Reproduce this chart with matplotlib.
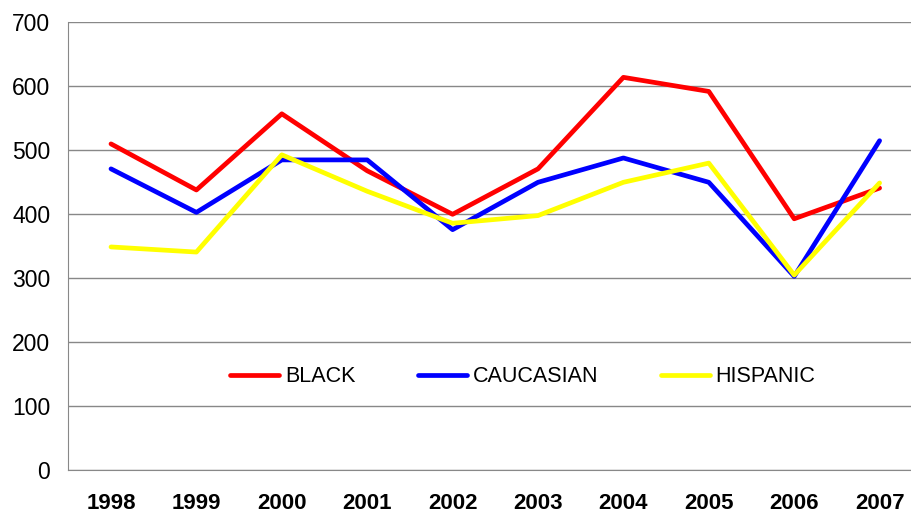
import matplotlib.pyplot as plt

# data
years = ['1998', '1999', '2000', '2001', '2002', '2003', '2004', '2005', '2006', '2007']
black = [510, 438, 557, 468, 400, 471, 614, 592, 393, 441]
caucasian = [471, 403, 485, 485, 376, 450, 488, 450, 303, 515]
hispanic = [349, 341, 493, 436, 386, 398, 450, 480, 305, 449]

plt.rcParams['font.family'] = ['Liberation Sans', 'DejaVu Sans']

fig = plt.figure(figsize=(9.12, 5.12), dpi=100)
ax = fig.add_axes([68.3 / 912, 41.7 / 512, 854 / 912, 448 / 512])

x = range(len(years))
ax.plot(x, black, color='#ff0000', lw=3.4, label='BLACK', solid_capstyle='round')
ax.plot(x, caucasian, color='#0000ff', lw=3.4, label='CAUCASIAN', solid_capstyle='round')
ax.plot(x, hispanic, color='#ffff00', lw=3.4, label='HISPANIC', solid_capstyle='round')

ax.set_xlim(-0.5, len(years) - 0.5)
ax.set_ylim(0, 700)
ax.set_yticks(range(0, 701, 100))
ax.set_xticks(list(x))
ax.set_xticklabels(years, fontweight='bold')

ax.grid(axis='y', color='#888888', lw=1)
ax.set_axisbelow(True)
for side in ['top', 'right']:
    ax.spines[side].set_visible(False)
ax.spines['left'].set_color('#888888')
ax.spines['bottom'].set_color('#888888')
ax.tick_params(axis='y', length=0, pad=13, labelsize=16.5)
ax.tick_params(axis='x', length=0, pad=16, labelsize=16)

ax.legend(loc='center', bbox_to_anchor=(0.532, 0.209), ncol=3, frameon=False,
          fontsize=15.5, handlelength=2.3, handletextpad=0.25, columnspacing=2.9)

fig.savefig('out.png', dpi=100)
